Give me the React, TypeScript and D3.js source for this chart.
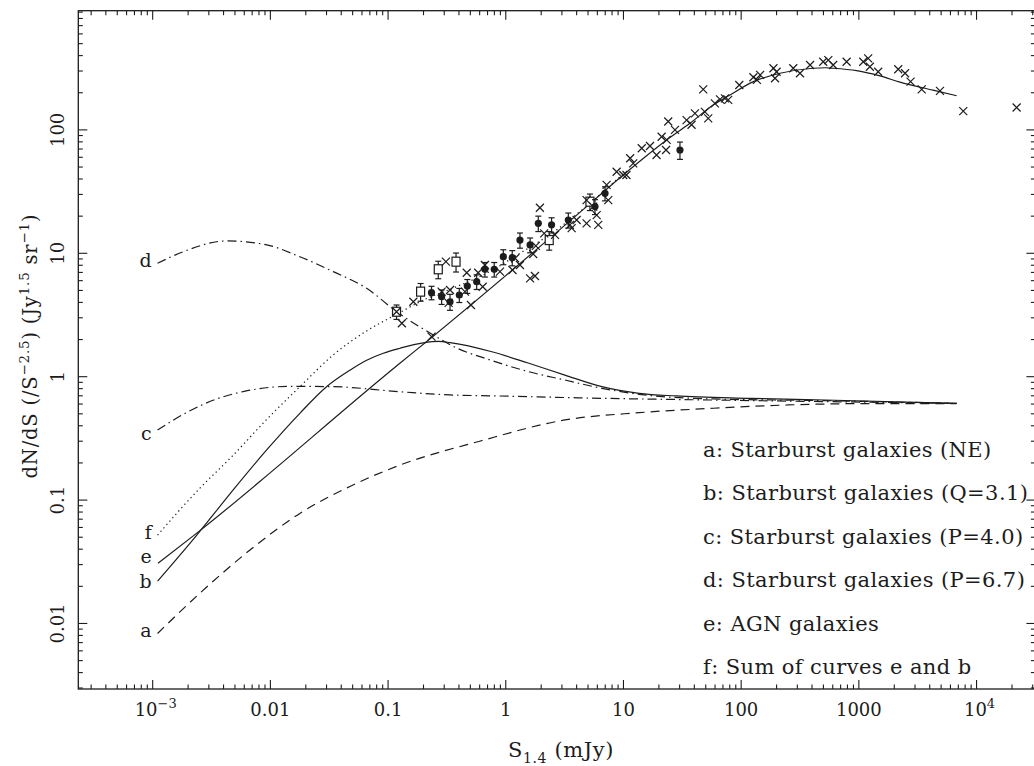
import React from 'react';
import * as d3 from 'd3';

const W = 1034;
const H = 766;

// Axis domains (S in mJy, dN/dS normalised)
const X_DOMAIN: [number, number] = [Math.pow(10, -3.632), Math.pow(10, 4.5)];
const Y_DOMAIN: [number, number] = [Math.pow(10, -2.531), Math.pow(10, 2.966)];

const xTicks = [
  { v: 1e-3, base: '10', sup: '−3' },
  { v: 0.01, base: '0.01', sup: '' },
  { v: 0.1, base: '0.1', sup: '' },
  { v: 1, base: '1', sup: '' },
  { v: 10, base: '10', sup: '' },
  { v: 100, base: '100', sup: '' },
  { v: 1000, base: '1000', sup: '' },
  { v: 1e4, base: '10', sup: '4' },
];
const yTicks = [
  { v: 0.01, label: '0.01' },
  { v: 0.1, label: '0.1' },
  { v: 1, label: '1' },
  { v: 10, label: '10' },
  { v: 100, label: '100' },
];

// Model curves [S (mJy), dN/dS]
const curveA = [
  [0.0011, 0.0083], [0.00252, 0.0176], [0.00671, 0.0394], [0.0178, 0.078], [0.0474, 0.129],
  [0.126, 0.192], [0.6, 0.3], [3.18, 0.446], [13.6, 0.511], [58.2, 0.555], [248, 0.59],
  [1062, 0.605], [6776, 0.606],
];
const curveB = [
  [0.0011, 0.022], [0.00237, 0.052], [0.0047, 0.117], [0.0093, 0.255], [0.0178, 0.505],
  [0.03, 0.83], [0.0474, 1.13], [0.0658, 1.36], [0.091, 1.55], [0.126, 1.7], [0.199, 1.88],
  [0.27, 1.93], [0.336, 1.89], [0.748, 1.6], [1.55, 1.29], [3.18, 1.03], [6.56, 0.83],
  [13.6, 0.733], [27.9, 0.698], [119, 0.668], [512, 0.647], [6776, 0.608],
];
const curveC = [
  [0.0011, 0.37], [0.002, 0.52], [0.0035, 0.66], [0.006, 0.76], [0.0147, 0.835],
  [0.0342, 0.83], [0.126, 0.755], [0.336, 0.711], [0.748, 0.7], [6.56, 0.668], [58.2, 0.647],
  [6776, 0.608],
];
const curveD = [
  [0.0011, 8.3], [0.00182, 10.3], [0.00426, 12.6], [0.00931, 11.7], [0.0178, 9.38],
  [0.0342, 7.1], [0.0658, 5.2], [0.118, 3.37], [0.242, 2.18], [0.363, 1.75], [0.748, 1.36],
  [1.55, 1.1], [3.18, 0.94], [6.56, 0.805], [13.6, 0.72], [58, 0.66], [500, 0.64], [6776, 0.608],
];
const curveE = [
  [0.00111, 0.0308], [0.00237, 0.054], [0.126, 1.285], [0.239, 2.11], [4.86, 23.9],
  [9.95, 43.1], [23.3, 82.8], [36.7, 113], [57.9, 159], [80.4, 192], [127, 246], [214, 288],
  [409, 316], [520, 319], [607, 316], [957, 302], [1510, 274], [2234, 244], [4266, 210],
  [6776, 189],
];
const curveF = [
  [0.0011, 0.052], [0.00252, 0.125], [0.0047, 0.225], [0.0093, 0.45], [0.0178, 0.83],
  [0.0342, 1.5], [0.0658, 2.35], [0.118, 3.2], [0.213, 4.3], [0.336, 5.1], [0.75, 7.2],
  [1.32, 10], [2.22, 13.6], [9.95, 44],
];

// Observed counts
const crossPoints = [
  [0.118, 3.36], [0.131, 2.71], [0.164, 4.05], [0.31, 8.55], [0.285, 4.89], [0.336, 5.04],
  [0.327, 3.96], [0.466, 6.96], [0.45, 4.89], [0.583, 6.96], [0.637, 5.36], [0.665, 8.04],
  [0.893, 7.1], [1.2, 9.11], [1.14, 7.32], [1.32, 8.04], [1.61, 6.27], [1.77, 6.55],
  [1.71, 9.87], [1.8, 11.5], [1.95, 23.4], [2.12, 14.5], [2.62, 14.1], [3.51, 17.0],
  [3.63, 16.0], [4.0, 18.6], [4.86, 17.5], [6.11, 17.0], [5.92, 20.4], [7.43, 27.0],
  [7.19, 35.8], [8.75, 45.8], [10.6, 43.1], [0.506, 3.81], [0.234, 2.11], [5.53, 23.9],
  [4.86, 27.0], [9.95, 43.1], [11.4, 58.9], [12.1, 53.6], [14.3, 71], [16.8, 74],
  [19.1, 62.6], [21.1, 88], [23.3, 83], [23.0, 68.7], [24.0, 117], [27.4, 100], [34.4, 120],
  [37.9, 110], [40.5, 136], [47.6, 213], [49.2, 140], [52.5, 124], [59.8, 164], [66.1, 177],
  [72.8, 180], [77.6, 175], [96.4, 231], [127, 267], [136, 254], [145, 279], [188, 316],
  [194, 262], [200, 296], [277, 316], [316, 288], [385, 336], [498, 357], [550, 368],
  [605, 336], [787, 357], [1090, 357], [1200, 380], [1240, 325], [1460, 296], [2160, 310],
  [2470, 288], [2750, 246], [3420, 213], [4890, 207], [7710, 142], [21900, 152],
];
// [S, N, error]
const circlePoints = [
  [0.234, 4.8, 0.6], [0.285, 4.45, 0.6], [0.336, 4.05, 0.6], [0.403, 4.59, 0.6],
  [0.471, 5.43, 0.7], [0.566, 5.89, 0.8], [0.665, 7.42, 1.0], [0.798, 7.42, 1.0],
  [0.953, 9.38, 1.3], [1.135, 9.21, 1.3], [1.32, 12.8, 1.8], [1.61, 11.7, 1.6],
  [1.89, 17.5, 2.5], [2.45, 17.0, 2.4], [3.4, 18.6, 2.6], [5.73, 23.9, 3.3], [6.97, 30.6, 4],
  [30.2, 68.7, 11],
];
const squarePoints = [
  [0.118, 3.36, 0.45], [0.189, 4.89, 0.8], [0.267, 7.42, 1.2], [0.378, 8.55, 1.5],
  [2.34, 12.8, 2.2], [5.19, 26.2, 4],
];

const curveLetters = ['d', 'c', 'f', 'e', 'b', 'a'];
const curveLetterValues = [8.83, 0.352, 0.0556, 0.0352, 0.0221, 0.0089];
const legendLabels = [
  'a: Starburst galaxies (NE)',
  'b: Starburst galaxies (Q=3.1)',
  'c: Starburst galaxies (P=4.0)',
  'd: Starburst galaxies (P=6.7)',
  'e: AGN galaxies',
  'f: Sum of curves e and b',
];

const INK = '#1c1c1c';
const FONT = '"DejaVu Serif", "Liberation Serif", serif';

export default function App() {
  const frame = { left: 78.3, right: 1035.4, top: 10.7, bottom: 689 };
  const x = d3.scaleLog().domain(X_DOMAIN).range([frame.left, frame.right]);
  const y = d3.scaleLog().domain(Y_DOMAIN).range([frame.bottom, frame.top]);

  const line = d3
    .line<number[]>()
    .x((d) => x(d[0]))
    .y((d) => y(d[1]))
    .curve(d3.curveMonotoneX);

  // ticks
  const xMajor: number[] = [];
  const xMinor: number[] = [];
  for (let e = -4; e <= 4; e++) {
    for (let k = 1; k <= 9; k++) {
      const v = k * Math.pow(10, e);
      if (v < X_DOMAIN[0] || v > X_DOMAIN[1]) continue;
      (k === 1 ? xMajor : xMinor).push(v);
    }
  }
  const yMajor: number[] = [];
  const yMinor: number[] = [];
  for (let e = -3; e <= 2; e++) {
    for (let k = 1; k <= 9; k++) {
      const v = k * Math.pow(10, e);
      if (v < Y_DOMAIN[0] || v > Y_DOMAIN[1]) continue;
      (k === 1 ? yMajor : yMinor).push(v);
    }
  }
  const MAJ = 9;
  const MIN = 4.5;

  const sw = 1.2;

  return (
    <svg
      width={W}
      height={H}
      viewBox={`0 0 ${W} ${H}`}
      style={{ position: 'absolute', left: 0, top: 0, display: 'block', background: '#fff' }}
      fontFamily={FONT}
    >
      <rect x={0} y={0} width={W} height={H} fill="#fff" />
      {/* frame */}
      <rect
        x={frame.left}
        y={frame.top}
        width={frame.right - frame.left}
        height={frame.bottom - frame.top}
        fill="none"
        stroke={INK}
        strokeWidth={1.3}
      />
      {/* ticks on all four sides */}
      <g stroke={INK} strokeWidth={1.1}>
        {xMajor.map((v, i) => (
          <g key={'xm' + i}>
            <line x1={x(v)} x2={x(v)} y1={frame.bottom} y2={frame.bottom - MAJ} />
            <line x1={x(v)} x2={x(v)} y1={frame.top} y2={frame.top + MAJ} />
          </g>
        ))}
        {xMinor.map((v, i) => (
          <g key={'xn' + i}>
            <line x1={x(v)} x2={x(v)} y1={frame.bottom} y2={frame.bottom - MIN} />
            <line x1={x(v)} x2={x(v)} y1={frame.top} y2={frame.top + MIN} />
          </g>
        ))}
        {yMajor.map((v, i) => (
          <g key={'ym' + i}>
            <line x1={frame.left} x2={frame.left + MAJ} y1={y(v)} y2={y(v)} />
            <line x1={frame.right} x2={frame.right - MAJ} y1={y(v)} y2={y(v)} />
          </g>
        ))}
        {yMinor.map((v, i) => (
          <g key={'yn' + i}>
            <line x1={frame.left} x2={frame.left + MIN} y1={y(v)} y2={y(v)} />
            <line x1={frame.right} x2={frame.right - MIN} y1={y(v)} y2={y(v)} />
          </g>
        ))}
      </g>
      {/* tick labels */}
      <g fill={INK} fontSize={18}>
        {xTicks.map((t, i) => (
          <text key={'xt' + i} x={x(t.v) + (t.sup ? 3 : 0)} y={716} textAnchor="middle">
            {t.base}
            {t.sup ? (
              <tspan dy={-8} fontSize={13}>
                {t.sup}
              </tspan>
            ) : null}
          </text>
        ))}
        {yTicks.map((t, i) => (
          <text
            key={'yt' + i}
            transform={`translate(63.5, ${y(t.v)}) rotate(-90)`}
            textAnchor="middle"
          >
            {t.label}
          </text>
        ))}
      </g>
      {/* axis titles */}
      <text x={561} y={757} textAnchor="middle" fontSize={21} letterSpacing={0.6} fill={INK}>
        S
        <tspan dy={6} fontSize={14}>
          1.4
        </tspan>
        <tspan dy={-6}> (mJy)</tspan>
      </text>
      <text
        transform={`translate(37, 346) rotate(-90)`}
        textAnchor="middle"
        fontSize={19.5}
        letterSpacing={0.8}
        fill={INK}
      >
        dN/dS (/S
        <tspan dy={-8} fontSize={13.5}>
          −2.5
        </tspan>
        <tspan dy={8}>) (Jy</tspan>
        <tspan dy={-8} fontSize={13.5}>
          1.5
        </tspan>
        <tspan dy={8}> sr</tspan>
        <tspan dy={-8} fontSize={13.5}>
          −1
        </tspan>
        <tspan dy={8}>)</tspan>
      </text>

      {/* model curves */}
      <g fill="none" stroke={INK} strokeWidth={sw}>
        <path d={line(curveA) || ''} strokeDasharray="9 6" />
        <path d={line(curveB) || ''} />
        <path d={line(curveC) || ''} strokeDasharray="9 4 1.5 4" />
        <path d={line(curveD) || ''} strokeDasharray="9 4 1.5 4" />
        <path d={line(curveE) || ''} />
        <path d={line(curveF) || ''} strokeDasharray="1.3 3.2" />
      </g>

      {/* curve letters */}
      <g fill={INK} fontSize={19}>
        {curveLetters.map((c, i) => (
          <text
            key={'cl' + i}
            x={x(1e-3) - 1}
            y={y(curveLetterValues[i])}
            textAnchor="end"
            dominantBaseline="central"
          >
            {c}
          </text>
        ))}
      </g>

      {/* data points */}
      <g stroke={INK} strokeWidth={1.2} fill="none">
        {squarePoints.map((p, i) => {
          const cx = x(p[0]);
          const cy = y(p[1]);
          const y1 = y(p[1] + p[2]);
          const y2 = y(p[1] - p[2]);
          return (
            <g key={'sq' + i}>
              <line x1={cx} x2={cx} y1={y1} y2={y2} />
              <line x1={cx - 3} x2={cx + 3} y1={y1} y2={y1} />
              <line x1={cx - 3} x2={cx + 3} y1={y2} y2={y2} />
              <rect x={cx - 4} y={cy - 4.5} width={8} height={9} fill="#fff" />
            </g>
          );
        })}
        {circlePoints.map((p, i) => {
          const cx = x(p[0]);
          const cy = y(p[1]);
          const y1 = y(p[1] + p[2]);
          const y2 = y(p[1] - p[2]);
          return (
            <g key={'ci' + i}>
              <line x1={cx} x2={cx} y1={y1} y2={y2} />
              <line x1={cx - 3} x2={cx + 3} y1={y1} y2={y1} />
              <line x1={cx - 3} x2={cx + 3} y1={y2} y2={y2} />
              <circle cx={cx} cy={cy} r={3.6} fill={INK} stroke="none" />
            </g>
          );
        })}
        {crossPoints.map((p, i) => {
          const cx = x(p[0]);
          const cy = y(p[1]);
          return (
            <path
              key={'cr' + i}
              d={`M${cx - 4},${cy - 4}L${cx + 4},${cy + 4}M${cx - 4},${cy + 4}L${cx + 4},${cy - 4}`}
            />
          );
        })}
      </g>

      {/* legend */}
      <g fill={INK} fontSize={21} letterSpacing={0.4}>
        {legendLabels.map((l, i) => (
          <text key={'lg' + i} x={703} y={457 + i * 43.4}>
            {l}
          </text>
        ))}
      </g>
    </svg>
  );
}
